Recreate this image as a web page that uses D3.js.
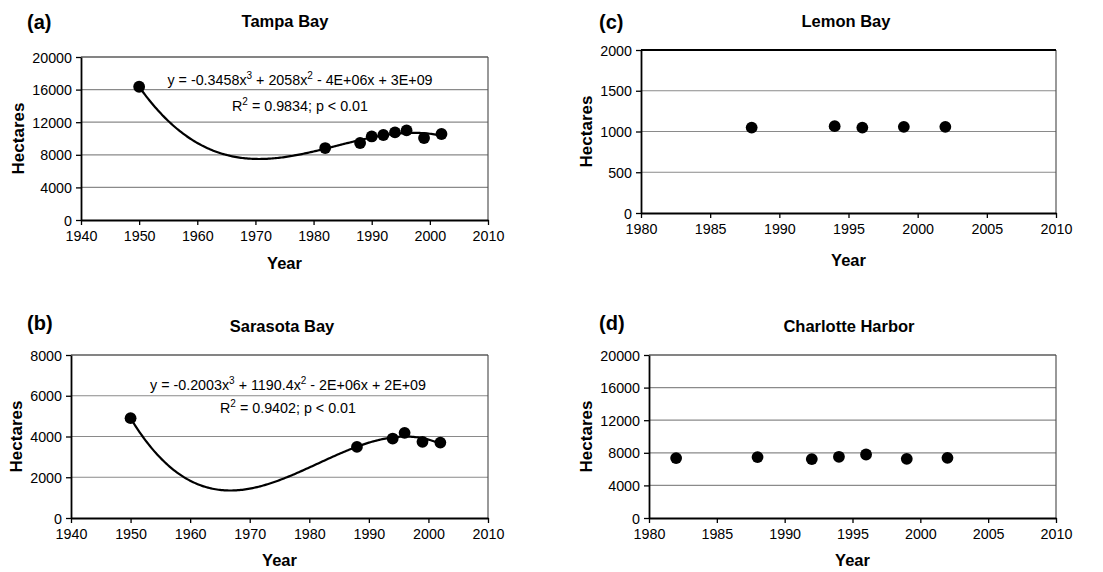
<!DOCTYPE html>
<html><head><meta charset="utf-8">
<script src="https://cdn.jsdelivr.net/npm/d3@7/dist/d3.min.js"></script>
<style>
body{margin:0;background:#fff;}
text{font-family:"Liberation Sans",Arial,sans-serif;fill:#000;}
</style></head>
<body><svg id="chart" width="1103" height="572"></svg>
<script>
// ---- data ----
const tampaYears = [1950, 1982, 1988, 1990, 1992, 1994, 1996, 1999, 2002];
const tampaHa    = [16350, 8830, 9450, 10250, 10430, 10750, 10990, 10060, 10550];
const sarasotaYears = [1950, 1988, 1994, 1996, 1999, 2002];
const sarasotaHa    = [4900, 3490, 3900, 4180, 3740, 3700];
const lemonYears = [1988, 1994, 1996, 1999, 2002];
const lemonHa    = [1048, 1065, 1048, 1057, 1057];
const charlotteYears = [1982, 1988, 1992, 1994, 1996, 1999, 2002];
const charlotteHa    = [7350, 7470, 7230, 7510, 7790, 7260, 7380];

const xTicksLong = [1940, 1950, 1960, 1970, 1980, 1990, 2000, 2010];
const xTicksShort = [1980, 1985, 1990, 1995, 2000, 2005, 2010];
const yTicksTampa = [0, 4000, 8000, 12000, 16000, 20000];
const yTicksSarasota = [0, 2000, 4000, 6000, 8000];
const yTicksLemon = [0, 500, 1000, 1500, 2000];
const yTicksCharlotte = [0, 4000, 8000, 12000, 16000, 20000];

const titles = ["Tampa Bay", "Sarasota Bay", "Lemon Bay", "Charlotte Harbor"];
const letters = ["(a)", "(b)", "(c)", "(d)"];
const eqTampa = ["y = -0.3458x", "3", " + 2058x", "2", " - 4E+06x + 3E+09"];
const eqSarasota = ["y = -0.2003x", "3", " + 1190.4x", "2", " - 2E+06x + 2E+09"];
const r2Tampa = ["R", "2", " = 0.9834; p < 0.01"];
const r2Sarasota = ["R", "2", " = 0.9402; p < 0.01"];

// ---- cubic least-squares fit ----
function cubicFit(xs, ys) {
  const c = 1976, s = 10;
  const n = 4;
  const A = Array.from({length: n}, () => new Array(n + 1).fill(0));
  xs.forEach((x, i) => {
    const t = (x - c) / s;
    const p = [1, t, t * t, t * t * t];
    for (let r = 0; r < n; r++) {
      for (let k = 0; k < n; k++) A[r][k] += p[r] * p[k];
      A[r][n] += p[r] * ys[i];
    }
  });
  for (let i = 0; i < n; i++) {
    let m = i;
    for (let r = i + 1; r < n; r++) if (Math.abs(A[r][i]) > Math.abs(A[m][i])) m = r;
    [A[i], A[m]] = [A[m], A[i]];
    for (let r = 0; r < n; r++) {
      if (r === i) continue;
      const f = A[r][i] / A[i][i];
      for (let k = i; k <= n; k++) A[r][k] -= f * A[i][k];
    }
  }
  const b = A.map((row, i) => row[n] / row[i]);
  return x => { const t = (x - c) / s; return b[0] + b[1] * t + b[2] * t * t + b[3] * t * t * t; };
}

const svg = d3.select("#chart");

function panel(cfg) {
  const {L, R, T, B, xDom, xTicks, yMax, yTicks, years, vals, title, letter, titleX, titleY, letterX, letterY, hectX, yearY, fit, eq, r2, eqX, eqY, r2Y, thickTop} = cfg;
  const x = d3.scaleLinear().domain(xDom).range([L, R]);
  const y = d3.scaleLinear().domain([0, yMax]).range([B, T]);
  const g = svg.append("g");

  // gridlines
  g.selectAll("line.grid").data(yTicks.filter(v => v > 0)).join("line")
    .attr("x1", L).attr("x2", R).attr("y1", d => y(d)).attr("y2", d => y(d))
    .attr("stroke", "#8a8a8a").attr("stroke-width", 1.2);
  // right border
  g.append("line").attr("x1", R).attr("x2", R).attr("y1", T).attr("y2", B)
    .attr("stroke", "#555").attr("stroke-width", 1.2);
  g.append("line").attr("x1", L).attr("x2", R).attr("y1", T).attr("y2", T)
    .attr("stroke", thickTop ? "#000" : "#444").attr("stroke-width", thickTop ? 2.2 : 1.2);

  // axes
  const xAxis = d3.axisBottom(x).tickValues(xTicks).tickFormat(d3.format("d")).tickSizeInner(5).tickSizeOuter(0).tickPadding(6);
  const yAxis = d3.axisLeft(y).tickValues(yTicks).tickFormat(d3.format("d")).tickSizeInner(5).tickSizeOuter(0).tickPadding(4);
  const gx = g.append("g").attr("transform", `translate(0,${B})`).call(xAxis);
  const gy = g.append("g").attr("transform", `translate(${L},0)`).call(yAxis);
  [gx, gy].forEach(a => {
    a.select(".domain").attr("stroke", "#000").attr("stroke-width", 1.8);
    a.selectAll(".tick line").attr("stroke", "#000").attr("stroke-width", 1.3);
    a.selectAll("text").style("font-family", "'Liberation Sans',Arial,sans-serif").style("font-size", "14.3px").attr("fill", "#000");
  });
  gy.selectAll("text").attr("dy", "0.36em");

  // fit curve
  if (fit) {
    const f = cubicFit(years, vals);
    const pts = d3.range(years[0], years[years.length - 1] + 0.01, 0.25).map(v => [v, f(v)]);
    g.append("path").datum(pts)
      .attr("d", d3.line().x(d => x(d[0])).y(d => y(d[1])).curve(d3.curveLinear))
      .attr("fill", "none").attr("stroke", "#000").attr("stroke-width", 2.2);
  }

  // points
  g.selectAll("circle").data(years).join("circle")
    .attr("cx", d => x(d)).attr("cy", (d, i) => y(vals[i])).attr("r", 5.9).attr("fill", "#000");

  // titles
  g.append("text").attr("x", titleX).attr("y", titleY).attr("text-anchor", "middle")
    .style("font-size", "16.5px").style("font-weight", "bold").text(title);
  g.append("text").attr("x", letterX).attr("y", letterY)
    .style("font-size", "20px").style("font-weight", "bold").text(letter);
  g.append("text").attr("transform", `translate(${hectX},${(T + B) / 2}) rotate(-90)`).attr("text-anchor", "middle")
    .style("font-size", "17px").style("font-weight", "bold").text("Hectares");
  g.append("text").attr("x", (L + R) / 2).attr("y", yearY).attr("text-anchor", "middle")
    .style("font-size", "16.5px").style("font-weight", "bold").text("Year");

  function supText(parts, cx, cy) {
    const t = g.append("text").attr("x", cx).attr("y", cy).attr("text-anchor", "middle").style("font-size", "14.3px");
    parts.forEach((p, i) => {
      const isSup = i % 2 === 1;
      const ts = t.append("tspan").text(p);
      if (isSup) ts.attr("dy", -6).style("font-size", "10px");
      else if (i > 0) ts.attr("dy", 6);
    });
  }
  if (eq) { supText(eq, eqX, eqY); supText(r2, eqX, r2Y); }
}

panel({L: 81, R: 488, T: 57, B: 220, xDom: [1940, 2010], xTicks: xTicksLong, yMax: 20000, yTicks: yTicksTampa,
  years: tampaYears, vals: tampaHa, title: titles[0], letter: letters[0], titleX: 285, titleY: 27, letterX: 27, letterY: 29,
  hectX: 24, yearY: 269, fit: true, eq: eqTampa, r2: r2Tampa, eqX: 300, eqY: 85, r2Y: 111});
panel({L: 71, R: 488, T: 355, B: 518, xDom: [1940, 2010], xTicks: xTicksLong, yMax: 8000, yTicks: yTicksSarasota,
  years: sarasotaYears, vals: sarasotaHa, title: titles[1], letter: letters[1], titleX: 282, titleY: 332, letterX: 27, letterY: 330,
  hectX: 22, yearY: 566, fit: true, eq: eqSarasota, r2: r2Sarasota, eqX: 288, eqY: 390, r2Y: 413});
panel({L: 641, R: 1056, T: 50, B: 213, xDom: [1980, 2010], xTicks: xTicksShort, yMax: 2000, yTicks: yTicksLemon,
  years: lemonYears, vals: lemonHa, title: titles[2], letter: letters[2], titleX: 846, titleY: 27, letterX: 599, letterY: 29,
  hectX: 592, yearY: 266, fit: false, thickTop: true});
panel({L: 649, R: 1056, T: 355, B: 518, xDom: [1980, 2010], xTicks: xTicksShort, yMax: 20000, yTicks: yTicksCharlotte,
  years: charlotteYears, vals: charlotteHa, title: titles[3], letter: letters[3], titleX: 849, titleY: 332, letterX: 599, letterY: 330,
  hectX: 592, yearY: 566, fit: false});
</script></body></html>
